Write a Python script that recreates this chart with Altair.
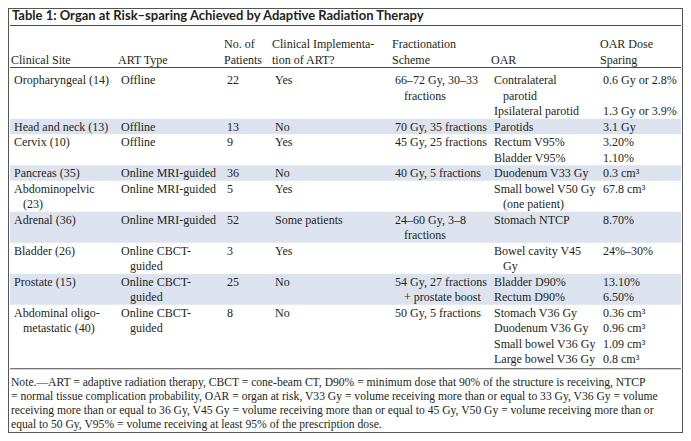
import altair as alt
import pandas as pd

title = "Table 1: Organ at Risk\u2013sparing Achieved by Adaptive Radiation Therapy"

headers = [
    ["Clinical Site"],
    ["ART Type"],
    ["No. of", "Patients"],
    ["Clinical Implementa-", "tion of ART?"],
    ["Fractionation", "Scheme"],
    ["OAR"],
    ["OAR Dose", "Sparing"],
]

site_lines = [
    ["Oropharyngeal (14)"],
    ["Head and neck (13)"],
    ["Cervix (10)"],
    ["Pancreas (35)"],
    ["Abdominopelvic", "(23)"],
    ["Adrenal (36)"],
    ["Bladder (26)"],
    ["Prostate (15)"],
    ["Abdominal oligo-", "metastatic (40)"],
]

art_lines = [
    ["Offline"],
    ["Offline"],
    ["Offline"],
    ["Online MRI-guided"],
    ["Online MRI-guided"],
    ["Online MRI-guided"],
    ["Online CBCT-", "guided"],
    ["Online CBCT-", "guided"],
    ["Online CBCT-", "guided"],
]

patients = ["22", "13", "9", "36", "5", "52", "3", "25", "8"]

implementation = ["Yes", "No", "Yes", "No", "Yes", "Some patients", "Yes", "No", "No"]

frac_lines = [
    ["66\u201372 Gy, 30\u201333", "fractions"],
    ["70 Gy, 35 fractions"],
    ["45 Gy, 25 fractions"],
    ["40 Gy, 5 fractions"],
    [],
    ["24\u201360 Gy, 3\u20138", "fractions"],
    [],
    ["54 Gy, 27 fractions", "+ prostate boost"],
    ["50 Gy, 5 fractions"],
]

oar_lines = [
    [["Contralateral", "parotid"], ["Ipsilateral parotid"]],
    [["Parotids"]],
    [["Rectum V95%"], ["Bladder V95%"]],
    [["Duodenum V33 Gy"]],
    [["Small bowel V50 Gy", "(one patient)"]],
    [["Stomach NTCP"]],
    [["Bowel cavity V45", "Gy"]],
    [["Bladder D90%"], ["Rectum D90%"]],
    [["Stomach V36 Gy"], ["Duodenum V36 Gy"], ["Small bowel V36 Gy"], ["Large bowel V36 Gy"]],
]

sparing = [
    ["0.6 Gy or 2.8%", "1.3 Gy or 3.9%"],
    ["3.1 Gy"],
    ["3.20%", "1.10%"],
    ["0.3 cm\u00b3"],
    ["67.8 cm\u00b3"],
    ["8.70%"],
    ["24%\u201330%"],
    ["13.10%", "6.50%"],
    ["0.36 cm\u00b3", "0.96 cm\u00b3", "1.09 cm\u00b3", "0.8 cm\u00b3"],
]

shaded_rows = [1, 3, 5, 7]

note_lines = [
    "Note.\u2014ART = adaptive radiation therapy, CBCT = cone-beam CT, D90% = minimum dose that 90% of the structure is receiving, NTCP",
    "= normal tissue complication probability, OAR = organ at risk, V33 Gy = volume receiving more than or equal to 33 Gy, V36 Gy = volume",
    "receiving more than or equal to 36 Gy, V45 Gy = volume receiving more than or equal to 45 Gy, V50 Gy = volume receiving more than or",
    "equal to 50 Gy, V95% = volume receiving at least 95% of the prescription dose.",
]

# ---------------- layout (page pixel coordinates) ----------------
COL_X = [14, 121, 227, 275, 395, 494, 603]
HEAD_DX = -3
INDENT = 9
HEAD_Y1 = 44
PITCH = 15.5
BODY_Y0 = 80
TITLE_Y = 16
TITLE_RULE_Y = 25.5
HEAD_RULE_Y = 67.5
NOTE_PITCH = 14
TABLE_X0, TABLE_X1 = 10, 681

body = []
heads = []
for c, lines in enumerate(headers):
    start = 2 - len(lines)
    for j, t in enumerate(lines):
        heads.append({"text": t, "x": COL_X[c] + HEAD_DX, "y": HEAD_Y1 + (start + j) * PITCH})

bands = []
line = 0
for r in range(len(site_lines)):
    n_oar = sum(len(o) for o in oar_lines[r])
    nl = max(len(site_lines[r]), len(art_lines[r]), len(frac_lines[r]), n_oar, 1)
    cells = [site_lines[r], art_lines[r], [patients[r]], [implementation[r]], frac_lines[r]]
    for c, lines in enumerate(cells):
        for j, t in enumerate(lines):
            body.append({"text": t, "x": COL_X[c] + (INDENT if j > 0 else 0),
                         "y": BODY_Y0 + (line + j) * PITCH})
    k = 0
    for s, sub in enumerate(oar_lines[r]):
        for j, t in enumerate(sub):
            body.append({"text": t, "x": COL_X[5] + (INDENT if j > 0 else 0),
                         "y": BODY_Y0 + (line + k + j) * PITCH})
        body.append({"text": sparing[r][s], "x": COL_X[6], "y": BODY_Y0 + (line + k) * PITCH})
        k += len(sub)
    if r in shaded_rows:
        bands.append({"x": TABLE_X0, "x2": TABLE_X1,
                      "y": BODY_Y0 + line * PITCH - PITCH / 2,
                      "y2": BODY_Y0 + (line + nl - 1) * PITCH + PITCH / 2})
    line += nl

last_y = BODY_Y0 + (line - 1) * PITCH
NOTE_RULE_Y = last_y + PITCH / 2 + 2
notes = [{"text": t, "x": 11, "y": NOTE_RULE_Y + 14 + i * NOTE_PITCH} for i, t in enumerate(note_lines)]

rules = [
    {"x": TABLE_X0, "x2": TABLE_X1, "y": TITLE_RULE_Y},
    {"x": TABLE_X0, "x2": TABLE_X1, "y": HEAD_RULE_Y},
    {"x": TABLE_X0, "x2": TABLE_X1, "y": NOTE_RULE_Y},
]

titles = [{"text": title, "x": 12, "y": TITLE_Y}]

# ---------------- chart ----------------
W, H = 675, 425
xs = alt.Scale(domain=[8, 8 + W], nice=False, zero=False)
ys = alt.Scale(domain=[8, 8 + H], nice=False, zero=False, reverse=True)
X = lambda f: alt.X(f + ":Q", scale=xs, axis=None)
Y = lambda f: alt.Y(f + ":Q", scale=ys, axis=None)

band_layer = alt.Chart(pd.DataFrame(bands)).mark_rect(color="#dce3ee").encode(
    x=X("x"), x2="x2", y=Y("y"), y2="y2")

rule_layer = alt.Chart(pd.DataFrame(rules)).mark_rule(color="#4a4a4a", strokeWidth=1.2).encode(
    x=X("x"), x2="x2", y=Y("y"))

txt = dict(align="left", baseline="middle", color="#231f20")

title_layer = alt.Chart(pd.DataFrame(titles)).mark_text(
    font="Lato", fontWeight="bold", fontSize=13, **txt).encode(x=X("x"), y=Y("y"), text="text:N")

head_layer = alt.Chart(pd.DataFrame(heads)).mark_text(
    font="Liberation Serif", fontSize=12, **txt).encode(x=X("x"), y=Y("y"), text="text:N")

body_layer = alt.Chart(pd.DataFrame(body)).mark_text(
    font="Liberation Serif", fontSize=12, **txt).encode(x=X("x"), y=Y("y"), text="text:N")

note_layer = alt.Chart(pd.DataFrame(notes)).mark_text(
    font="Liberation Serif", fontSize=11.6, **txt).encode(x=X("x"), y=Y("y"), text="text:N")

chart = alt.layer(band_layer, rule_layer, title_layer, head_layer, body_layer, note_layer).properties(
    width=W, height=H, padding=0, autosize="none", background="white"
).configure_view(stroke="#555555", strokeWidth=2)

chart.save("out.html", embed_options={"renderer": "svg", "actions": False})
